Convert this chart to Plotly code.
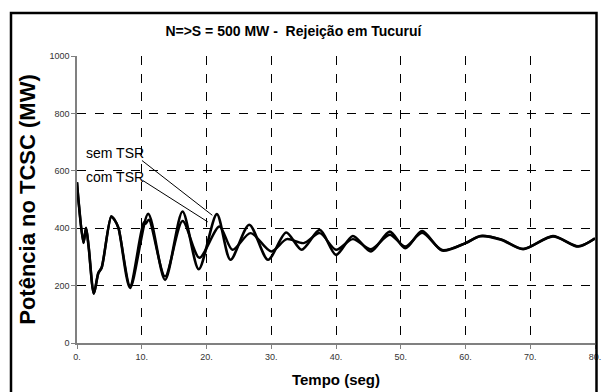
import plotly.graph_objects as go

# Data
t_sem = [0, 0.3, 1.0, 1.4, 1.8, 2.6, 3.3, 3.8, 5.3, 5.8, 6.4, 8.2, 11.0, 13.6, 16.3, 18.8,
         21.6, 23.7, 26.6, 29.5, 32.3, 34.7, 37.5, 40.0, 42.6, 45.4, 48.3, 50.7, 53.3,
         56.4, 60.0, 62.3, 65.5, 68.9, 73.5, 77.4, 80]
v_sem = [560, 480, 349, 401, 335, 172, 244, 262, 441, 429, 401, 192, 450, 220, 458, 257,
         449, 290, 412, 290, 385, 325, 394, 307, 373, 319, 388, 330, 390,
         322, 348, 373, 360, 327, 373, 336, 365]

t_com = [0, 0.3, 1.0, 1.4, 1.8, 2.6, 3.3, 3.8, 5.3, 5.8, 6.4, 8.2, 10.3, 10.6, 11.1, 13.6,
         16.3, 18.9, 22.0, 24.0, 26.8, 30.0, 32.4, 35.0, 37.5, 40.0, 42.6, 45.4, 48.3,
         50.7, 53.3, 56.4, 60.0, 62.3, 65.5, 68.9, 73.5, 77.4, 80]
v_com = [560, 480, 349, 401, 335, 172, 244, 262, 441, 429, 401, 200, 420, 415, 430, 232,
         425, 297, 406, 325, 383, 319, 362, 348, 383, 325, 362, 327, 377,
         336, 384, 324, 348, 372, 361, 328, 371, 337, 364]

x_ticks = [0, 10, 20, 30, 40, 50, 60, 70, 80]
x_tick_labels = ["0.", "10.", "20.", "30.", "40.", "50.", "60.", "70.", "80."]
y_ticks = [0, 200, 400, 600, 800, 1000]
y_tick_labels = ["0", "200", "400", "600", "800", "1000"]

series_names = ["sem TSR", "com TSR"]

NARROW = "Liberation Sans Narrow, Arial Narrow, Liberation Sans, Arial, sans-serif"
ARIAL = "Liberation Sans, Arial, sans-serif"

L, R, T, B = 77, 7, 56, 49
PW, PH = 602 - L - R, 392 - T - B

fig = go.Figure()
fig.add_trace(go.Scatter(x=t_sem, y=v_sem, mode="lines", name=series_names[0],
                         line=dict(color="black", width=2.6, shape="spline", smoothing=0.8)))
fig.add_trace(go.Scatter(x=t_com, y=v_com, mode="lines", name=series_names[1],
                         line=dict(color="black", width=2.4, shape="spline", smoothing=0.8)))

# labels
fig.add_annotation(x=1.15, y=663, text=series_names[0], showarrow=False, xanchor="left",
                   yanchor="middle", font=dict(family=ARIAL, size=14, color="black"))
fig.add_annotation(x=1.15, y=578, text=series_names[1], showarrow=False, xanchor="left",
                   yanchor="middle", font=dict(family=ARIAL, size=14, color="black"))
# leader lines
fig.add_annotation(x=20.9, y=445, ax=9.8, ay=640, axref="x", ayref="y", text="",
                   showarrow=True, arrowhead=0, arrowwidth=1, arrowcolor="black", standoff=0)
fig.add_annotation(x=20.2, y=422, ax=9.9, ay=570, axref="x", ayref="y", text="",
                   showarrow=True, arrowhead=0, arrowwidth=1, arrowcolor="black", standoff=0)

# outer frame (left/top/right)
fig.add_shape(type="path", xref="paper", yref="paper",
              path="M {x0},{y0} L {x0},{y1} L {x1},{y1} L {x1},{y0}".format(
                  x0=(11 - L) / PW, x1=(596.5 - L) / PW,
                  y0=(343 - 400) / PH, y1=(343 - 13) / PH),
              line=dict(color="black", width=2.5), layer="above")

fig.update_layout(
    width=602, height=392,
    margin=dict(l=L, r=R, t=T, b=B, autoexpand=False),
    paper_bgcolor="white", plot_bgcolor="white",
    showlegend=False,
    title=dict(text="<b>N=>S = 500 MW -  Rejeição em Tucuruí</b>", x=0.4875, xanchor="center",
               y=1 - 31 / 392, yanchor="middle", yref="container",
               font=dict(family=ARIAL, size=14, color="black")),
    xaxis=dict(range=[0, 80], tickvals=x_ticks, ticktext=x_tick_labels, automargin=False,
               showgrid=True, gridcolor="black", griddash="dash", gridwidth=1,
               zeroline=False, showline=True, linecolor="#808080", linewidth=1.5,
               ticks="outside", ticklen=4, tickcolor="#808080", ticklabeloverflow="allow",
               tickfont=dict(family=NARROW, size=9, color="#333333"),
               title=dict(text="<b>Tempo (seg)</b>", standoff=14,
                          font=dict(family=ARIAL, size=15, color="black"))),
    yaxis=dict(range=[0, 1000], tickvals=y_ticks, ticktext=y_tick_labels, automargin=False,
               showgrid=True, gridcolor="black", griddash="dash", gridwidth=1,
               zeroline=False, showline=True, linecolor="#808080", linewidth=1.5,
               ticks="outside", ticklen=4, tickcolor="#808080",
               tickfont=dict(family=NARROW, size=9, color="#333333"),
               title=dict(text="<b>Potência no TCSC (MW)</b>", standoff=8,
                          font=dict(family=ARIAL, size=22, color="black"))),
)

fig.write_html("out.html")
